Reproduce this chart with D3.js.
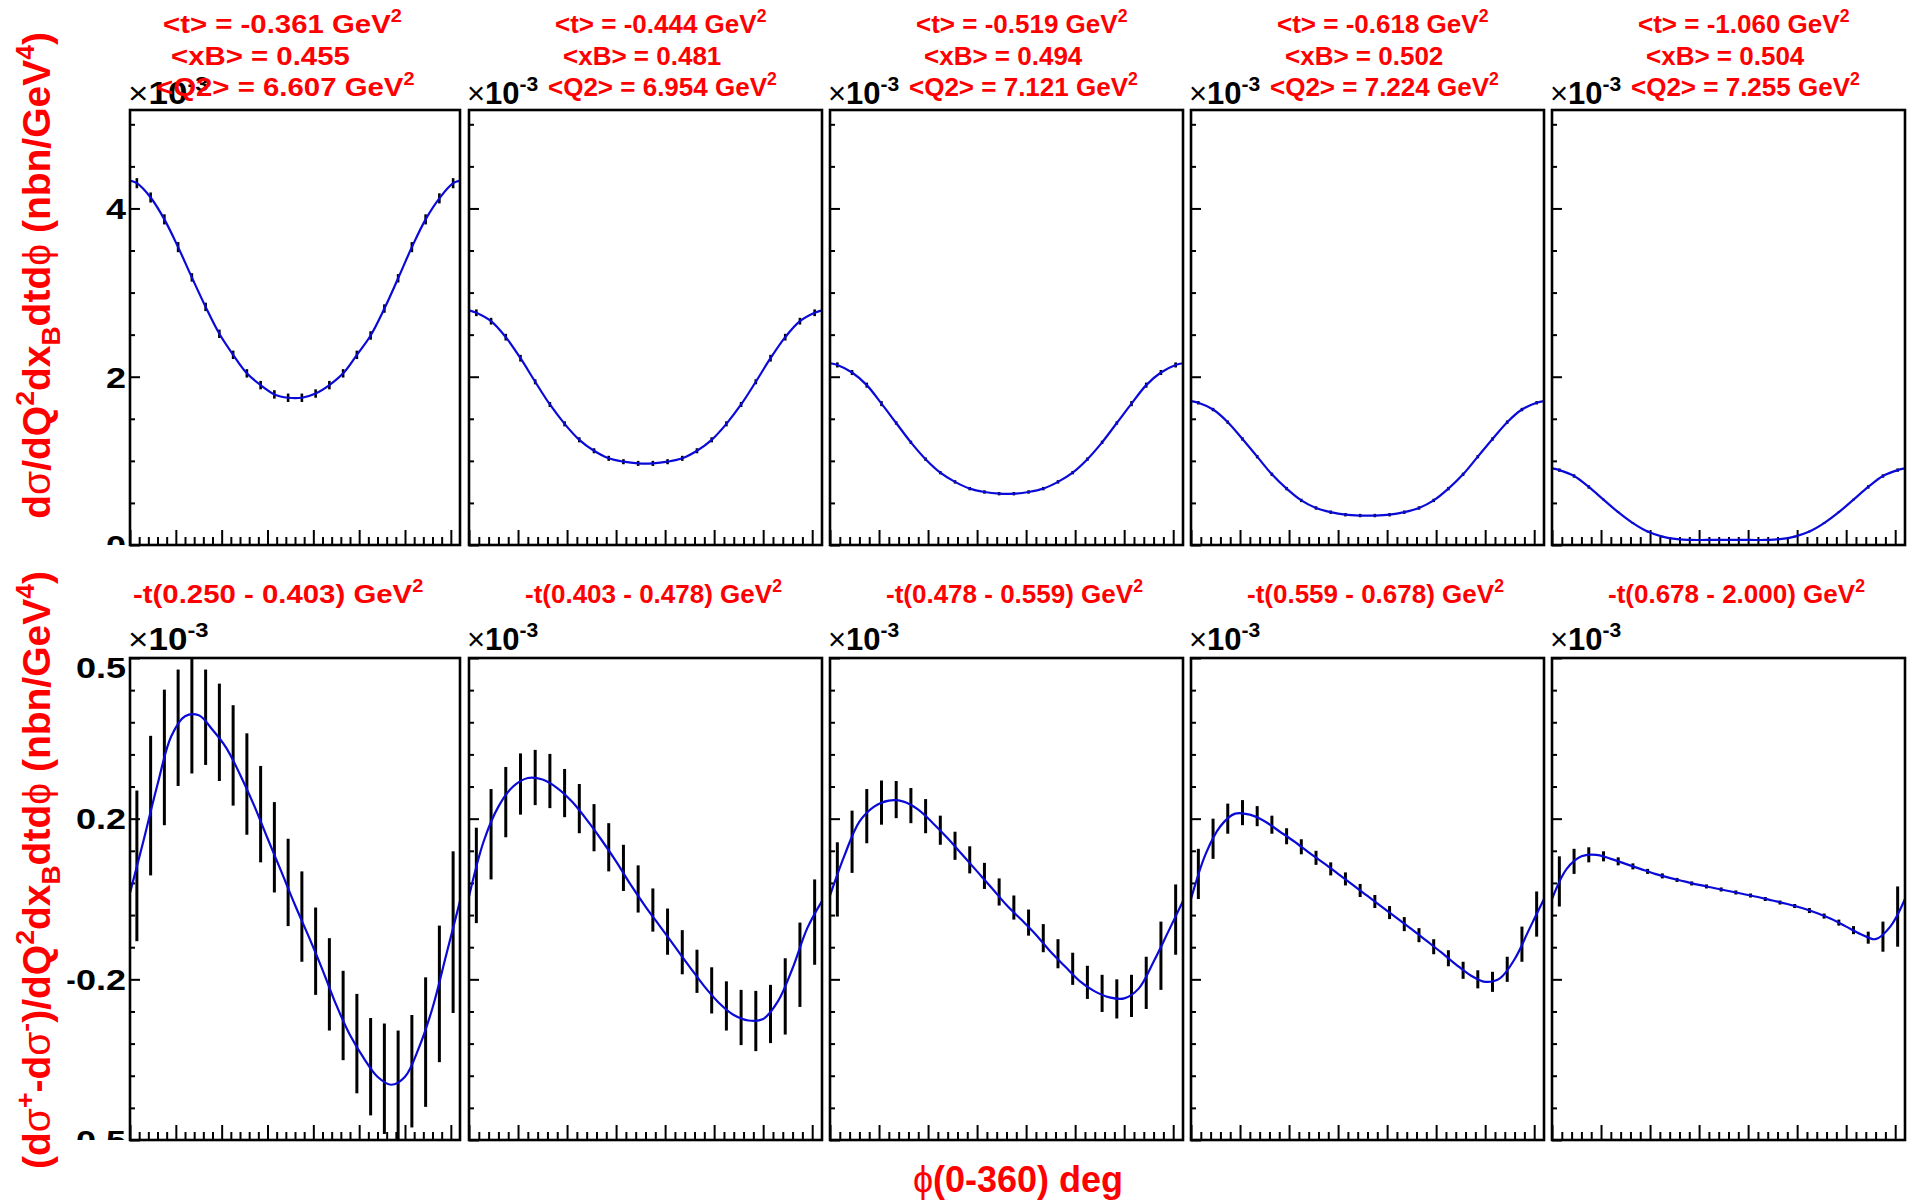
<!DOCTYPE html>
<html>
<head>
<meta charset="utf-8">
<script src="https://cdn.jsdelivr.net/npm/d3@7"></script>
<style>
  body { margin: 0; background: #fff; }
  text { font-family: "Liberation Sans", Arial, Helvetica, sans-serif; }
</style>
</head>
<body>
<svg id="canvas" width="1913" height="1203"></svg>
<script>
// ---------------------------------------------------------------------------
// Bin centres and fit nodes in phi (deg)
const phiBins = [7.5, 22.5, 37.5, 52.5, 67.5, 82.5, 97.5, 112.5, 127.5, 142.5, 157.5, 172.5,
                 187.5, 202.5, 217.5, 232.5, 247.5, 262.5, 277.5, 292.5, 307.5, 322.5, 337.5, 352.5];
const phiFit = [0, 15, 30, 45, 60, 75, 90, 105, 120, 135, 150, 165, 180,
                195, 210, 225, 240, 255, 270, 285, 300, 315, 330, 345, 360];

// Bin kinematics
const tMean  = [-0.361, -0.444, -0.519, -0.618, -1.060];
const xbMean = [0.455, 0.481, 0.494, 0.502, 0.504];
const q2Mean = [6.607, 6.954, 7.121, 7.224, 7.255];
const tLow   = [0.250, 0.403, 0.478, 0.559, 0.678];
const tHigh  = [0.403, 0.478, 0.559, 0.678, 2.000];

// Unpolarised cross section (x 1e-3 nb/GeV^4)
const xsec1 = [4.30, 4.13, 3.87, 3.54, 3.18, 2.83, 2.51, 2.26, 2.04, 1.90, 1.79, 1.75,
               1.75, 1.80, 1.90, 2.04, 2.26, 2.49, 2.81, 3.17, 3.54, 3.87, 4.12, 4.30];
const xsec2 = [2.76, 2.66, 2.47, 2.22, 1.94, 1.67, 1.44, 1.25, 1.12, 1.03, 0.99, 0.97,
               0.97, 0.99, 1.03, 1.12, 1.25, 1.44, 1.67, 1.94, 2.22, 2.47, 2.66, 2.76];
const xsec3 = [2.14, 2.05, 1.90, 1.68, 1.45, 1.22, 1.02, 0.86, 0.75, 0.67, 0.63, 0.61,
               0.61, 0.63, 0.67, 0.75, 0.86, 1.02, 1.22, 1.45, 1.68, 1.90, 2.05, 2.14];
const xsec4 = [1.69, 1.61, 1.46, 1.26, 1.05, 0.84, 0.67, 0.53, 0.44, 0.39, 0.36, 0.35,
               0.35, 0.36, 0.39, 0.44, 0.53, 0.67, 0.84, 1.05, 1.26, 1.46, 1.61, 1.69];
const xsec5 = [0.89, 0.82, 0.69, 0.54, 0.39, 0.26, 0.16, 0.10, 0.07, 0.06, 0.06, 0.06,
               0.06, 0.06, 0.06, 0.07, 0.10, 0.16, 0.26, 0.39, 0.54, 0.69, 0.82, 0.89];
const xsecErr1 = [0.06, 0.06, 0.06, 0.06, 0.05, 0.05, 0.05, 0.05, 0.05, 0.05, 0.05, 0.05,
                  0.05, 0.05, 0.05, 0.05, 0.05, 0.05, 0.05, 0.05, 0.06, 0.06, 0.06, 0.06];
const xsecErr2 = [0.04, 0.04, 0.04, 0.04, 0.03, 0.03, 0.03, 0.03, 0.03, 0.03, 0.03, 0.03,
                  0.03, 0.03, 0.03, 0.03, 0.03, 0.03, 0.03, 0.03, 0.04, 0.04, 0.04, 0.04];
const xsecErr3 = [0.03, 0.03, 0.03, 0.03, 0.02, 0.02, 0.02, 0.02, 0.02, 0.02, 0.02, 0.02,
                  0.02, 0.02, 0.02, 0.02, 0.02, 0.02, 0.02, 0.02, 0.03, 0.03, 0.03, 0.03];
const xsecErr4 = [0.02, 0.02, 0.02, 0.02, 0.02, 0.02, 0.02, 0.02, 0.02, 0.02, 0.02, 0.02,
                  0.02, 0.02, 0.02, 0.02, 0.02, 0.02, 0.02, 0.02, 0.02, 0.02, 0.02, 0.02];
const xsecErr5 = [0.02, 0.02, 0.02, 0.01, 0.01, 0.01, 0.01, 0.01, 0.01, 0.01, 0.01, 0.01,
                  0.01, 0.01, 0.01, 0.01, 0.01, 0.01, 0.01, 0.01, 0.01, 0.02, 0.02, 0.02];
// Fitted cross section at phi = 0 / 360
const xsecEdge = [4.33, 2.79, 2.16, 1.71, 0.91];

// Beam-charge difference (x 1e-3 nb/GeV^4)
const diff1 = [0.066, 0.186, 0.282, 0.341, 0.370, 0.362, 0.332, 0.286, 0.229, 0.169, 0.103, 0.033,
               -0.035, -0.104, -0.170, -0.232, -0.288, -0.334, -0.358, -0.372, -0.343, -0.285, -0.189, -0.066];
const diffErr1 = [0.150, 0.139, 0.135, 0.116, 0.120, 0.095, 0.097, 0.100, 0.101, 0.096, 0.090, 0.087,
                  0.090, 0.087, 0.092, 0.089, 0.099, 0.097, 0.110, 0.110, 0.112, 0.129, 0.136, 0.161];
const diff2 = [0.047, 0.129, 0.193, 0.229, 0.242, 0.235, 0.211, 0.180, 0.142, 0.103, 0.062, 0.020,
               -0.022, -0.065, -0.106, -0.144, -0.182, -0.213, -0.236, -0.243, -0.229, -0.194, -0.131, -0.046];
const diffErr2 = [0.095, 0.090, 0.070, 0.061, 0.055, 0.054, 0.048, 0.049, 0.047, 0.048, 0.046, 0.047,
                  0.043, 0.046, 0.044, 0.043, 0.046, 0.049, 0.055, 0.060, 0.058, 0.076, 0.084, 0.085];
const diff3 = [0.039, 0.114, 0.165, 0.192, 0.198, 0.186, 0.165, 0.137, 0.106, 0.078, 0.046, 0.014,
               -0.017, -0.047, -0.078, -0.109, -0.139, -0.166, -0.188, -0.199, -0.193, -0.167, -0.113, -0.041];
const diffErr3 = [0.074, 0.062, 0.054, 0.044, 0.037, 0.035, 0.034, 0.029, 0.028, 0.027, 0.026, 0.027,
                  0.024, 0.026, 0.028, 0.029, 0.032, 0.033, 0.037, 0.039, 0.042, 0.052, 0.068, 0.070];
const diff4 = [0.050, 0.120, 0.160, 0.172, 0.165, 0.148, 0.125, 0.104, 0.082, 0.060, 0.040, 0.017,
               -0.005, -0.027, -0.050, -0.072, -0.095, -0.118, -0.142, -0.160, -0.165, -0.140, -0.090, -0.030];
const diffErr4 = [0.050, 0.040, 0.030, 0.025, 0.020, 0.018, 0.016, 0.015, 0.014, 0.013, 0.013, 0.013,
                  0.013, 0.013, 0.014, 0.014, 0.015, 0.016, 0.017, 0.018, 0.020, 0.025, 0.035, 0.045];
const diff5 = [0.035, 0.075, 0.088, 0.085, 0.075, 0.065, 0.055, 0.046, 0.038, 0.031, 0.025, 0.019,
               0.013, 0.007, 0.000, -0.007, -0.014, -0.023, -0.034, -0.047, -0.062, -0.077, -0.075, -0.035];
const diffErr5 = [0.050, 0.025, 0.015, 0.010, 0.008, 0.006, 0.005, 0.005, 0.004, 0.004, 0.004, 0.004,
                  0.004, 0.004, 0.004, 0.004, 0.004, 0.005, 0.005, 0.006, 0.008, 0.012, 0.030, 0.060];

// Fitted difference at phiFit nodes
const diffFit1 = [0.012, 0.118, 0.228, 0.324, 0.364, 0.366, 0.337, 0.301, 0.248, 0.188, 0.121, 0.055, -0.012,
                  -0.075, -0.141, -0.211, -0.271, -0.317, -0.354, -0.370, -0.354, -0.297, -0.217, -0.111, -0.004];
const diffFit2 = [0.005, 0.115, 0.184, 0.224, 0.241, 0.238, 0.221, 0.194, 0.158, 0.118, 0.075, 0.028, -0.015,
                  -0.055, -0.095, -0.135, -0.174, -0.207, -0.231, -0.242, -0.239, -0.204, -0.138, -0.058, -0.004];
const diffFit3 = [0.007, 0.088, 0.154, 0.184, 0.196, 0.194, 0.178, 0.151, 0.121, 0.088, 0.055, 0.022, -0.012,
                  -0.041, -0.071, -0.105, -0.135, -0.164, -0.184, -0.196, -0.198, -0.178, -0.125, -0.065, -0.004];
const diffFit4 = [0.000, 0.090, 0.145, 0.170, 0.168, 0.155, 0.135, 0.115, 0.093, 0.072, 0.050, 0.028, 0.006,
                  -0.016, -0.038, -0.060, -0.083, -0.106, -0.130, -0.152, -0.165, -0.158, -0.120, -0.060, 0.000];
const diffFit5 = [0.000, 0.060, 0.085, 0.088, 0.080, 0.070, 0.060, 0.050, 0.042, 0.035, 0.028, 0.022, 0.016,
                  0.010, 0.004, -0.003, -0.010, -0.018, -0.028, -0.040, -0.055, -0.070, -0.080, -0.055, 0.000];

// Axis ticks
const phiMajor = [0, 50, 100, 150, 200, 250, 300, 350];
const phiMinor = [10, 20, 30, 40, 60, 70, 80, 90, 110, 120, 130, 140, 160, 170, 180, 190,
                  210, 220, 230, 240, 260, 270, 280, 290, 310, 320, 330, 340];
const xsecMajor = [0, 2, 4];
const xsecMinor = [0.5, 1, 1.5, 2.5, 3, 3.5, 4.5, 5];
const diffMajor = [-0.48, -0.16, 0.16, 0.48];
const diffMinor = [-0.416, -0.352, -0.288, -0.224, -0.096, -0.032, 0.032, 0.096, 0.224, 0.288, 0.352, 0.416];

// ---------------------------------------------------------------------------
const xsecSets = [
  [xsec1, xsecErr1], [xsec2, xsecErr2], [xsec3, xsecErr3], [xsec4, xsecErr4], [xsec5, xsecErr5]
];
const diffSets = [
  [diff1, diffErr1, diffFit1], [diff2, diffErr2, diffFit2], [diff3, diffErr3, diffFit3],
  [diff4, diffErr4, diffFit4], [diff5, diffErr5, diffFit5]
];

const RED = "#ff0000";
const BLUE = "#0a0ad8";
const svg = d3.select("#canvas");
const defs = svg.append("defs");

// Column geometry: the first frame is narrower because of the y-axis margin
function column(i) {
  if (i === 0) return [130, 460];
  const x0 = 469 + (i - 1) * 361;
  return [x0, x0 + 353];
}
const rows = [{ y0: 110, y1: 545 }, { y0: 658, y1: 1140 }];

// Plain hyphen for negative numbers
const loc = d3.formatLocale({ decimal: ".", thousands: ",", grouping: [3], currency: ["", ""], minus: "-" });
const f3 = loc.format(".3f");
const fLab = loc.format(".1f");

// Text with super/subscripts. parts: [string, mode] mode: "", "sup", "sub", "g" (light glyph)
function rich(sel, parts, size) {
  let shift = 0;
  parts.forEach(([t, m]) => {
    let target = 0, fs = size;
    if (m === "sup") { target = -0.42 * size; fs = 0.68 * size; }
    if (m === "sub") { target = 0.26 * size; fs = 0.68 * size; }
    const ts = sel.append("tspan").text(t).attr("font-size", fs).attr("dy", target - shift);
    if (m === "g") ts.attr("font-weight", "normal");
    shift = target;
  });
  return sel;
}
// Text placed at (x, y) with a horizontal stretch (wider first pad)
function placed(parent, x, y, sx) {
  return parent.append("text").attr("transform", `translate(${x},${y}) scale(${sx},1)`);
}

// Clip for the y tick labels of the first column (pad edges)
defs.append("clipPath").attr("id", "labClip0").append("rect")
  .attr("x", 67.5).attr("y", 0).attr("width", 80).attr("height", rows[0].y1);
defs.append("clipPath").attr("id", "labClip1").append("rect")
  .attr("x", 67.5).attr("y", 560).attr("width", 80).attr("height", rows[1].y1 - 560);

function drawPanel(rowIdx, col) {
  const [x0, x1] = column(col);
  const { y0, y1 } = rows[rowIdx];
  const x = d3.scaleLinear().domain([0, 360]).range([x0, x1]);
  const y = rowIdx === 0
    ? d3.scaleLinear().domain([0, 5.17]).range([y1, y0])
    : d3.scaleLinear().domain([-0.48, 0.48]).range([y1, y0]);
  const sx = col === 0 ? 1.13 : 1;

  const clipId = `clip-${rowIdx}-${col}`;
  defs.append("clipPath").attr("id", clipId).append("rect")
    .attr("x", x0).attr("y", y0).attr("width", x1 - x0).attr("height", y1 - y0);

  const g = svg.append("g");

  // Tick marks drawn inward with d3 axes
  const axX = (vals, len) => g.append("g").attr("transform", `translate(0,${y1})`)
    .call(d3.axisBottom(x).tickValues(vals).tickSize(-len).tickFormat(""))
    .call(a => a.select(".domain").remove())
    .call(a => a.selectAll("line").attr("stroke", "#000").attr("stroke-width", 2));
  axX(phiMajor, 15);
  axX(phiMinor, 8);

  const axY = (vals, len) => g.append("g").attr("transform", `translate(${x0},0)`)
    .call(d3.axisLeft(y).tickValues(vals).tickSize(-len).tickFormat(""))
    .call(a => a.select(".domain").remove())
    .call(a => a.selectAll("line").attr("stroke", "#000").attr("stroke-width", 2));
  axY(rowIdx === 0 ? xsecMajor : diffMajor, 10);
  axY(rowIdx === 0 ? xsecMinor : diffMinor, 5);

  // Data points with error bars, then the fit curve
  const plot = g.append("g").attr("clip-path", `url(#${clipId})`);
  let vals, errs, fitPts;
  if (rowIdx === 0) {
    [vals, errs] = xsecSets[col];
    fitPts = [[0, xsecEdge[col]]].concat(phiBins.map((p, i) => [p, vals[i]]), [[360, xsecEdge[col]]]);
  } else {
    [vals, errs] = diffSets[col];
    fitPts = phiFit.map((p, i) => [p, diffSets[col][2][i]]);
  }
  plot.selectAll("line.err").data(phiBins).join("line")
    .attr("class", "err")
    .attr("x1", d => x(d)).attr("x2", d => x(d))
    .attr("y1", (d, i) => y(vals[i] - errs[i]))
    .attr("y2", (d, i) => y(vals[i] + errs[i]))
    .attr("stroke", "#000").attr("stroke-width", rowIdx === 0 ? 2.6 : 3);

  const line = d3.line().x(d => x(d[0])).y(d => y(d[1])).curve(d3.curveCatmullRom.alpha(0.5));
  plot.append("path").attr("d", line(fitPts))
    .attr("fill", "none").attr("stroke", BLUE).attr("stroke-width", 2.2);

  // Frame
  g.append("rect").attr("x", x0).attr("y", y0).attr("width", x1 - x0).attr("height", y1 - y0)
    .attr("fill", "none").attr("stroke", "#000").attr("stroke-width", 2.6);

  // Tick labels on the first column only
  if (col === 0) {
    const majors = rowIdx === 0 ? xsecMajor : diffMajor;
    const lab = svg.append("g").attr("clip-path", `url(#labClip${rowIdx})`);
    lab.selectAll("text").data(majors).join("text")
      .attr("transform", d =>
        `translate(${x0 - 4},${y(d) + (rowIdx === 1 && d === 0.48 ? 9 : 0)}) scale(1.2,1)`)
      .attr("dy", "0.36em")
      .attr("text-anchor", "end")
      .attr("font-weight", "bold")
      .attr("font-size", 30)
      .text(d => rowIdx === 0 ? d3.format("d")(d) : fLab(d));
  }

  // x10^-3 multiplier
  const mult = placed(svg, x0 - 2, rowIdx === 0 ? 104 : 650, sx)
    .attr("font-weight", "bold").attr("fill", "#000");
  rich(mult, [["\u00d7", "g"], ["10", ""], ["-3", "sup"]], 31);

  // Red bin labels
  const off = col === 0 ? 0 : 53;
  const h = svg.append("g").attr("fill", RED).attr("font-weight", "bold");
  if (rowIdx === 0) {
    rich(placed(h, x0 + 33 + off, 33, sx), [[`<t> = ${f3(tMean[col])} GeV`, ""], ["2", "sup"]], 26);
    rich(placed(h, x0 + 41 + off, 65, sx), [[`<xB> = ${f3(xbMean[col])}`, ""]], 26);
    rich(placed(h, x0 + 26 + off, 96, sx), [[`<Q2> = ${f3(q2Mean[col])} GeV`, ""], ["2", "sup"]], 26);
  } else {
    rich(placed(h, x0 + 3 + off, 603, sx),
      [[`-t(${f3(tLow[col])} - ${f3(tHigh[col])}) GeV`, ""], ["2", "sup"]], 26);
  }
}

for (let r = 0; r < 2; r++) for (let c = 0; c < 5; c++) drawPanel(r, c);

// Axis titles
const yt1 = svg.append("text").attr("transform", "translate(50,32) rotate(-90)")
  .attr("text-anchor", "end").attr("fill", RED).attr("font-weight", "bold");
rich(yt1, [["d", ""], ["\u03c3", "g"], ["/dQ", ""], ["2", "sup"], ["dx", ""], ["B", "sub"],
           ["dtd", ""], ["\u03d5", "g"], [" (nbn/GeV", ""], ["4", "sup"], [")", ""]], 39);

const yt2 = svg.append("text").attr("transform", "translate(50,571) rotate(-90)")
  .attr("text-anchor", "end").attr("fill", RED).attr("font-weight", "bold");
rich(yt2, [["(d", ""], ["\u03c3", "g"], ["+", "sup"], ["-d", ""], ["\u03c3", "g"], ["-", "sup"],
           [")/dQ", ""], ["2", "sup"], ["dx", ""], ["B", "sub"],
           ["dtd", ""], ["\u03d5", "g"], [" (nbn/GeV", ""], ["4", "sup"], [")", ""]], 39);

const xt = svg.append("text").attr("x", 1018).attr("y", 1192)
  .attr("text-anchor", "middle").attr("fill", RED).attr("font-weight", "bold");
rich(xt, [["\u03d5", "g"], ["(0-360) deg", ""]], 36);
</script>
</body>
</html>
